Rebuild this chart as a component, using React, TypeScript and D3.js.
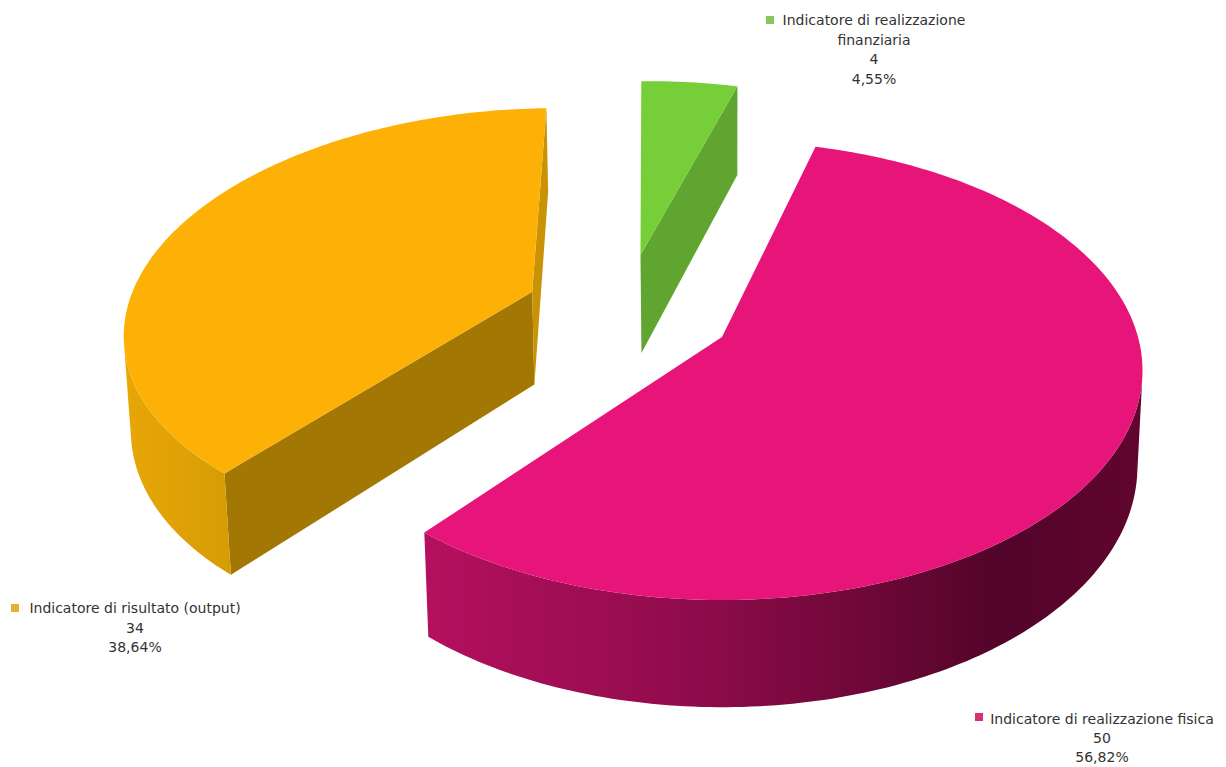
import React from "react";
import * as d3 from "d3";

// Indicator counts, in drawing order around the pie
const categories = [
  "Indicatore di realizzazione finanziaria",
  "Indicatore di realizzazione fisica",
  "Indicatore di risultato (output)",
];
const counts = [4, 50, 34];
const percentLabels = ["4,55%", "56,82%", "38,64%"];
const labelLines = [
  ["Indicatore di realizzazione", "finanziaria", "4", "4,55%"],
  ["Indicatore di realizzazione fisica", "50", "56,82%"],
  ["Indicatore di risultato (output)", "34", "38,64%"],
];
const topColors = ["#76cf38", "#e7147a", "#fdb106"];
const startWallColors = ["#5fa52f", "#8a0d4b", "#a37704"];
const endWallColors = ["#5fa52f", "#8a0d4b", "#c99305"];
const legendColors = ["#86c95a", "#d9336f", "#e0b23c"];

const W = 1226;
const H = 767;

// Camera used to lay the unit disc of each slice onto the page
const camera = { cx: 722, cy: 337, sx: 416, sy: 224.6, sz: 96, p: 0.146, q: 0.012 };

// Displacement, radius and wall height of each exploded slice in disc units
const explode = [
  { x: -0.207, y: 0.386, r: 0.98, h: 1.08 },
  { x: 0, y: 0, r: 1, h: 1 },
  { x: -0.47, y: 0.207, r: 0.99, h: 1 },
];
const legendAnchors = [
  { cx: 874, y: 25, gap: 19.5, sw: 766, sy: 20 },
  { cx: 1102, y: 724, gap: 19, sw: 975, sy: 717 },
  { cx: 135, y: 613, gap: 19.5, sw: 11, sy: 608 },
];

type P = [number, number];

function project(X: number, Y: number, Z: number): P {
  const { cx, cy, sx, sy, sz, p, q } = camera;
  const w = 1 + p * Y + q * Z;
  return [cx + (sx * X) / w, cy + (-sy * Y + sz * Z) / w];
}

function polygon(points: P[]): string {
  const path = d3.path();
  points.forEach(([x, y], i) => (i ? path.lineTo(x, y) : path.moveTo(x, y)));
  path.closePath();
  return path.toString();
}

// With clockwise rim order on the page, faces towards the viewer have positive d3 area
const facesViewer = (quad: P[]) => d3.polygonArea(quad) > 0;

const arcs = d3
  .pie<number>()
  .sort(null)
  .value((d) => d)
  .startAngle((-1.5 * Math.PI) / 180)
  .endAngle((358.5 * Math.PI) / 180)(counts);

// Builds the faces of one exploded slice; faces turned away from the viewer are culled
function buildSlice(i: number) {
  const arc = arcs[i];
  const o = explode[i];
  const steps = Math.max(8, Math.round(((arc.endAngle - arc.startAngle) * 180) / Math.PI));
  const angles = d3.range(steps + 1).map((k) => arc.startAngle + ((arc.endAngle - arc.startAngle) * k) / steps);
  const rim = angles.map((a) => ({ X: o.x + o.r * Math.sin(a), Y: o.y + o.r * Math.cos(a) }));
  const apex = { X: o.x, Y: o.y };
  const top = [apex, ...rim].map((v) => project(v.X, v.Y, 0));

  let outer = "";
  for (let k = 0; k < rim.length - 1; k++) {
    const a = rim[k];
    const b = rim[k + 1];
    const quad: P[] = [project(a.X, a.Y, 0), project(b.X, b.Y, 0), project(b.X, b.Y, o.h), project(a.X, a.Y, o.h)];
    if (facesViewer(quad)) outer += polygon(quad);
  }
  const first = rim[0];
  const last = rim[rim.length - 1];
  const startQuad: P[] = [project(apex.X, apex.Y, 0), project(first.X, first.Y, 0), project(first.X, first.Y, o.h), project(apex.X, apex.Y, o.h)];
  const endQuad: P[] = [project(last.X, last.Y, 0), project(apex.X, apex.Y, 0), project(apex.X, apex.Y, o.h), project(last.X, last.Y, o.h)];
  return {
    top: polygon(top),
    outer,
    startWall: facesViewer(startQuad) ? polygon(startQuad) : "",
    endWall: facesViewer(endQuad) ? polygon(endQuad) : "",
  };
}

const slices = counts.map((_, i) => buildSlice(i));

export default function App() {
  return (
    <svg
      width={W}
      height={H}
      viewBox={`0 0 ${W} ${H}`}
      style={{ position: "absolute", left: 0, top: 0, background: "#fff" }}
      fontFamily="'DejaVu Sans', sans-serif"
    >
      <defs>
        <linearGradient id="wall-0" gradientUnits="userSpaceOnUse" x1="640" x2="740" y1="0" y2="0">
          <stop offset="0" stopColor="#5fa52f" />
          <stop offset="1" stopColor="#5fa52f" />
        </linearGradient>
        <linearGradient id="wall-1" gradientUnits="userSpaceOnUse" x1="422" x2="1145" y1="0" y2="0">
          <stop offset="0" stopColor="#b5105f" />
          <stop offset="0.35" stopColor="#920c4d" />
          <stop offset="0.6" stopColor="#700839" />
          <stop offset="0.8" stopColor="#52042a" />
          <stop offset="1" stopColor="#61052f" />
        </linearGradient>
        <linearGradient id="wall-2" gradientUnits="userSpaceOnUse" x1="120" x2="230" y1="0" y2="0">
          <stop offset="0" stopColor="#e9a707" />
          <stop offset="1" stopColor="#d69c05" />
        </linearGradient>
      </defs>

      {slices.map((s, i) => (
        <g key={categories[i]}>
          {s.startWall && <path d={s.startWall} fill={startWallColors[i]} />}
          {s.endWall && <path d={s.endWall} fill={endWallColors[i]} />}
          {s.outer && <path d={s.outer} fill={`url(#wall-${i})`} />}
          <path d={s.top} fill={topColors[i]} />
        </g>
      ))}

      {labelLines.map((lines, i) => (
        <g key={percentLabels[i]}>
          <rect x={legendAnchors[i].sw} y={legendAnchors[i].sy - 4} width={8} height={8} fill={legendColors[i]} />
          <text textAnchor="middle" fontSize={14} fill="#333">
            {lines.map((line, k) => (
              <tspan key={k} x={legendAnchors[i].cx} y={legendAnchors[i].y + k * legendAnchors[i].gap}>
                {line}
              </tspan>
            ))}
          </text>
        </g>
      ))}
    </svg>
  );
}
